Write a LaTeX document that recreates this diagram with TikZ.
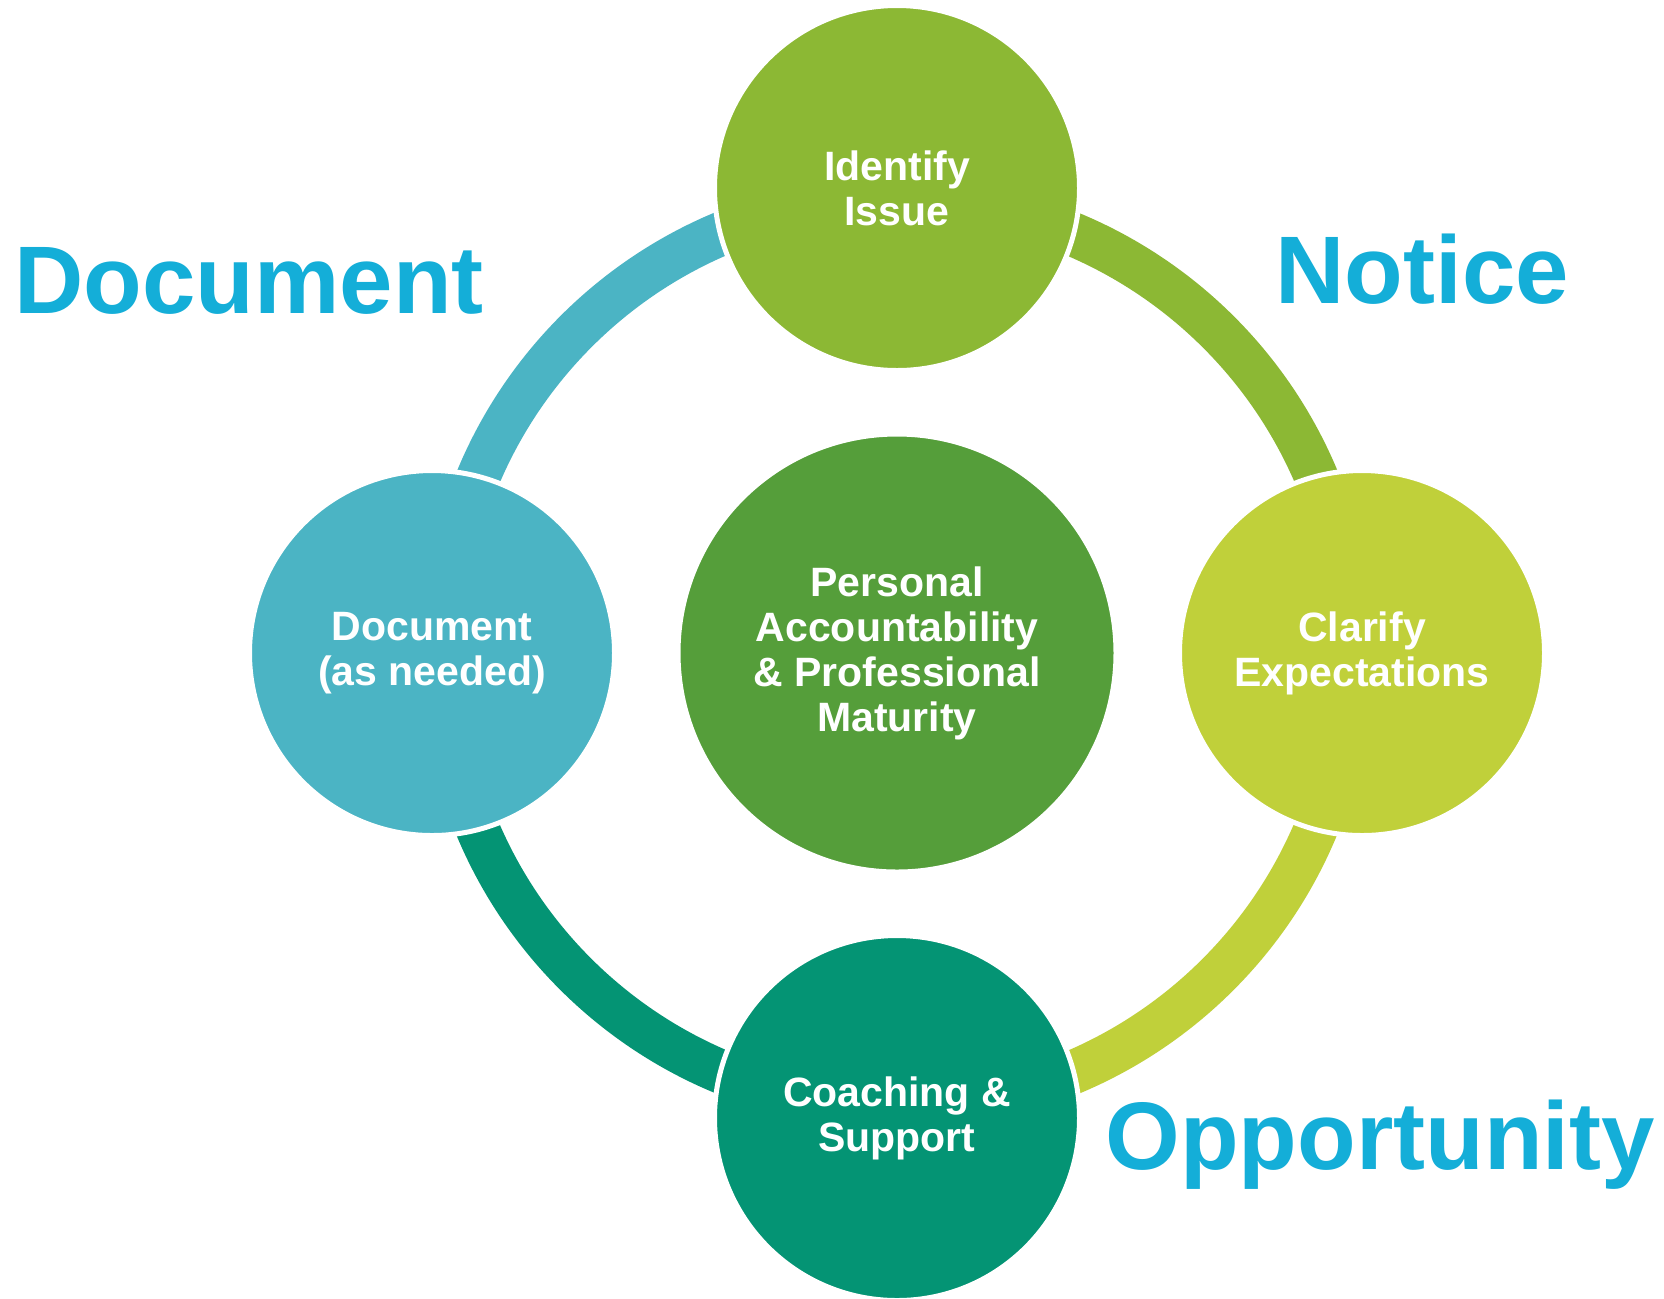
\documentclass[tikz,border=0pt]{standalone}
\usepackage{fontspec}
\setmainfont{Liberation Sans}
\usepackage{xcolor}
\usepackage{tikz}
\usetikzlibrary{backgrounds}
\definecolor{issue}{HTML}{8CB834}
\definecolor{clarify}{HTML}{C0D03A}
\definecolor{coach}{HTML}{049474}
\definecolor{docu}{HTML}{4BB4C4}
\definecolor{core}{HTML}{559E3A}
\definecolor{word}{HTML}{14AED8}
\tikzset{
  stage/.style={circle, minimum size=182.5pt, inner sep=0pt, draw=white, line width=2.5pt,
    text=white, align=center, font=\bfseries\fontsize{20.5}{22.5}\selectfont},
  band/.style={line width=22pt},
  heading/.style={anchor=base west, inner sep=0pt, text=word,
    font=\bfseries\fontsize{48}{52}\selectfont}
}

\begin{document}
\begin{tikzpicture}[x=0.5pt, y=0.5pt]
\useasboundingbox (0,0) rectangle (1664,-1298);
% centre of the ring and the four stages round it
\coordinate (C) at (897,-653);
\node[stage, fill=core, minimum size=219pt] (core) at (C) {Personal\\Accountability\\\& Professional\\Maturity};
\node[stage, fill=issue] (issue) at (897,-188) {Identify\\Issue};
\node[stage, fill=clarify] (clarify) at (1362,-653) {Clarify\\Expectations};
\node[stage, fill=coach] (coach) at (897,-1118) {Coaching \&\\Support};
\node[stage, fill=docu] (docu) at (432,-653) {Document\\(as needed)};

% big words
\node[heading] (docword) at (14,-313) {Document};
\node[heading] (notice) at (1275,-303) {Notice};
\node[heading] (chance) at (1105,-1169) {Opportunity};

% ring pieces go behind the stages
\begin{scope}[on background layer]
\fill[white] (0,0) rectangle (1664,-1298);
\draw[band, issue] ([yshift=-5.5pt]issue.center) arc[start angle=90, end angle=0, radius=455];
\draw[band, clarify] ([xshift=-5.5pt]clarify.center) arc[start angle=0, end angle=-90, radius=455];
\draw[band, coach] ([yshift=5.5pt]coach.center) arc[start angle=-90, end angle=-180, radius=455];
\draw[band, docu] ([xshift=5.5pt]docu.center) arc[start angle=180, end angle=90, radius=455];
\end{scope}
\end{tikzpicture}
\end{document}
